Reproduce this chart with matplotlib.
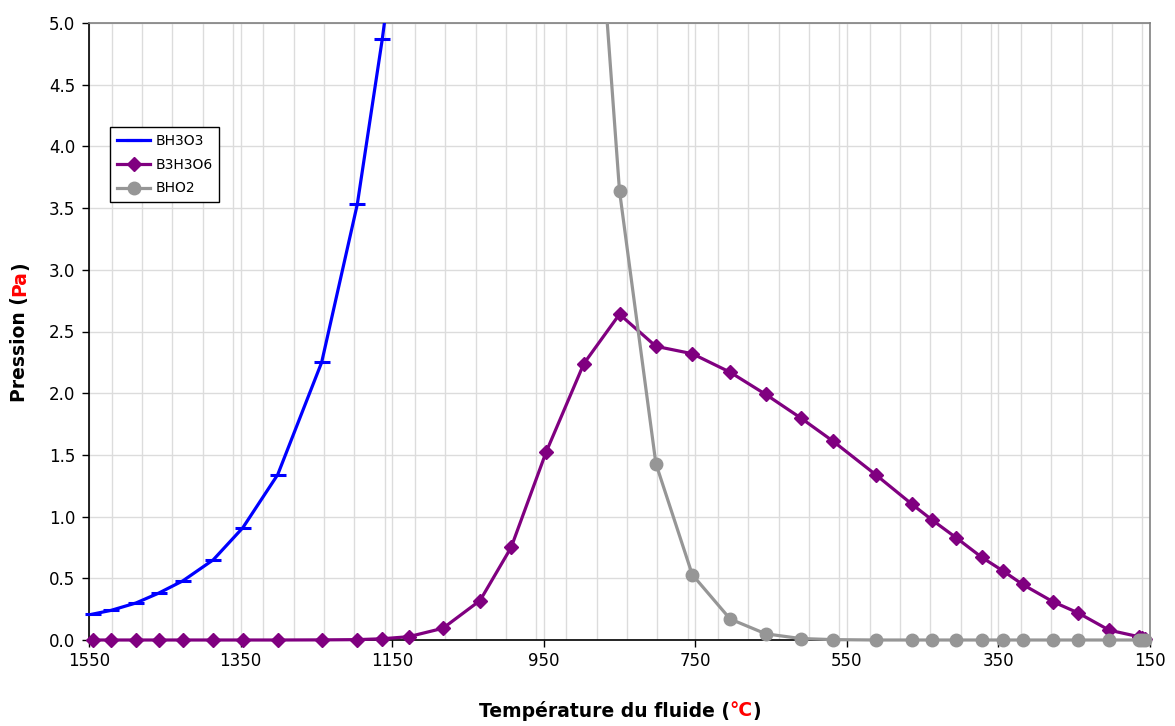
import numpy as np
import matplotlib
matplotlib.use("Agg")
import matplotlib.pyplot as plt
from matplotlib.patches import Rectangle
from matplotlib.ticker import MultipleLocator, FormatStrFormatter

# Donnees (temperature en degC, pression en Pa)
temperature = [1545, 1521, 1488, 1458, 1426, 1386, 1347, 1301, 1243, 1196,
               1163, 1128, 1083, 1034, 993, 947, 897, 850, 802, 754,
               704, 657, 611, 568, 512, 464, 437, 406, 372, 344,
               318, 278, 245, 204, 165, 160, 156]

bh3o3 = [0.21, 0.24, 0.30, 0.38, 0.48, 0.65, 0.91, 1.34, 2.25, 3.53,
         4.87, 6.5] + [np.nan] * 25

b3h3o6 = [0, 0, 0, 0, 0, 0, 0, 0, 0.001, 0.003,
          0.01, 0.027, 0.095, 0.32, 0.75, 1.52, 2.24, 2.64, 2.38, 2.32,
          2.17, 1.99, 1.80, 1.61, 1.34, 1.10, 0.97, 0.83, 0.67, 0.56,
          0.45, 0.31, 0.22, 0.08, 0.027, 0.02, 0.012]

bho2 = [np.nan] * 16 + [7.6, 3.64, 1.43, 0.53, 0.17, 0.05, 0.012, 0.003] + [0] * 13

x_ticks = [1550, 1350, 1150, 950, 750, 550, 350, 150]

plt.rcParams["font.family"] = ["DejaVu Sans"]

fig = plt.figure(figsize=(11.75, 7.26), dpi=100)
ax = fig.add_axes([89 / 1175, 1 - 640 / 726, 1061 / 1175, 617 / 726])

# zone de decoupage: coupe en haut, laisse les marqueurs entiers en bas et a droite
clip = Rectangle((-0.02, -0.05), 1.04, 1.05, transform=ax.transAxes)

lines = []
lines += ax.plot(temperature, bh3o3, color="#0000FF", lw=2.3, marker="_", ms=12, mew=2.2,
                 label="BH3O3", zorder=3)
lines += ax.plot(temperature, b3h3o6, color="#800080", lw=2.3, marker="D", ms=7.5,
                 label="B3H3O6", zorder=4)
lines += ax.plot(temperature, bho2, color="#969696", lw=2.3, marker="o", ms=9,
                 label="BHO2", zorder=5)
for ln in lines:
    ln.set_clip_path(clip)

ax.set_xlim(1550, 150)
ax.set_ylim(0, 5.0)
ax.set_xticks(x_ticks)
ax.xaxis.set_minor_locator(MultipleLocator(40))
ax.yaxis.set_major_locator(MultipleLocator(0.5))
ax.yaxis.set_major_formatter(FormatStrFormatter("%.1f"))

ax.grid(True, which="both", axis="x", color="#dcdcdc", lw=1)
ax.grid(True, which="major", axis="y", color="#dcdcdc", lw=1)
ax.set_axisbelow(True)

ax.tick_params(axis="both", which="major", direction="out", length=5, width=1,
               labelsize=12, color="black")
ax.tick_params(axis="x", which="major", pad=4)
ax.tick_params(axis="y", which="major", pad=5)
ax.tick_params(axis="x", which="minor", length=0)

ax.spines["left"].set_color("black")
ax.spines["bottom"].set_color("black")
ax.spines["top"].set_color("#808080")
ax.spines["right"].set_color("#808080")
for s in ax.spines.values():
    s.set_linewidth(1.2)

leg = ax.legend(loc="upper left", bbox_to_anchor=((110 - 89) / 1061, (640 - 127) / 617),
                borderaxespad=0, fontsize=10, handlelength=2.4, handletextpad=0.35,
                borderpad=0.5, frameon=True, fancybox=False, edgecolor="black",
                framealpha=1, labelspacing=0.7)
leg.get_frame().set_linewidth(1)

# Titres des axes avec l'unite en rouge
fig.canvas.draw()
renderer = fig.canvas.get_renderer()


def colored_text(parts, cx, cy, rotation=0, size=13.5):
    sizes = []
    for s, c in parts:
        t = fig.text(0, 0, s, fontsize=size, fontweight="bold", rotation=rotation)
        bb = t.get_window_extent(renderer)
        sizes.append(bb.width if rotation == 0 else bb.height)
        t.remove()
    total = sum(sizes)
    W, H = fig.bbox.width, fig.bbox.height
    pos = (cx * W - total / 2) if rotation == 0 else (cy * H - total / 2)
    for (s, c), w in zip(parts, sizes):
        if rotation == 0:
            fig.text(pos / W, cy, s, color=c, fontsize=size, fontweight="bold",
                     ha="left", va="center")
        else:
            fig.text(cx, pos / H, s, color=c, fontsize=size, fontweight="bold",
                     rotation=90, ha="center", va="bottom")
        pos += w


colored_text([("Température du fluide (", "black"), ("°C", "red"), (")", "black")],
             620 / 1175, 1 - 711 / 726)
colored_text([("Pression (", "black"), ("Pa", "red"), (")", "black")],
             20 / 1175, 1 - 332 / 726, rotation=90)

plt.savefig("out.png", dpi=100)
plt.close()
